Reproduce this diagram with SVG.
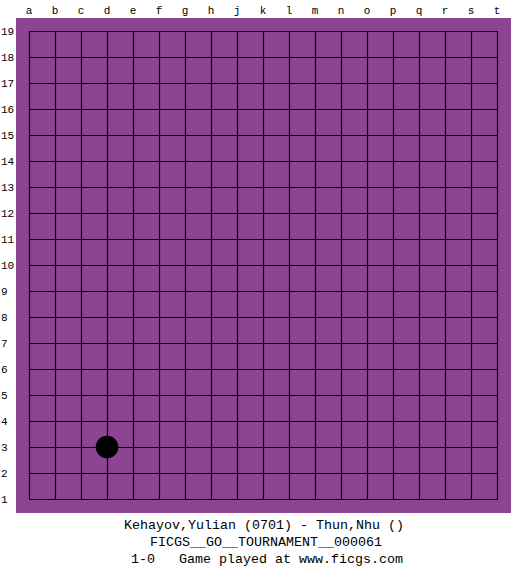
<svg xmlns="http://www.w3.org/2000/svg" width="525" height="575" viewBox="0 0 525 575">
<style>
.lbl{font-family:"Liberation Mono","DejaVu Sans Mono",monospace;font-size:11px;fill:#000}
.cap{font-family:"Liberation Mono","DejaVu Sans Mono",monospace;font-size:13px;fill:#000}
.g{stroke:#000;stroke-width:1.2;fill:none}
</style>
<rect width="525" height="575" fill="#fff"/>
<g id="board">
<rect x="16" y="18" width="495" height="495" fill="#8B4592"/>
</g>
<g id="grid" class="g">
<path d="M29.5 31.5V499.5M55.5 31.5V499.5M81.5 31.5V499.5M107.5 31.5V499.5M133.5 31.5V499.5M159.5 31.5V499.5M185.5 31.5V499.5M211.5 31.5V499.5M237.5 31.5V499.5M263.5 31.5V499.5M289.5 31.5V499.5M315.5 31.5V499.5M341.5 31.5V499.5M367.5 31.5V499.5M393.5 31.5V499.5M419.5 31.5V499.5M445.5 31.5V499.5M471.5 31.5V499.5M497.5 31.5V499.5"/>
<path d="M29.5 31.5H497.5M29.5 57.5H497.5M29.5 83.5H497.5M29.5 109.5H497.5M29.5 135.5H497.5M29.5 161.5H497.5M29.5 187.5H497.5M29.5 213.5H497.5M29.5 239.5H497.5M29.5 265.5H497.5M29.5 291.5H497.5M29.5 317.5H497.5M29.5 343.5H497.5M29.5 369.5H497.5M29.5 395.5H497.5M29.5 421.5H497.5M29.5 447.5H497.5M29.5 473.5H497.5M29.5 499.5H497.5"/>
</g>
<g id="stone-d3">
<circle cx="107" cy="447" r="11.3" fill="#000"/>
</g>
<g id="col-labels" class="lbl" text-anchor="middle">
<text x="29" y="14">a</text><text x="55" y="14">b</text><text x="81" y="14">c</text><text x="107" y="14">d</text><text x="133" y="14">e</text><text x="159" y="14">f</text><text x="185" y="14">g</text><text x="211" y="14">h</text><text x="237" y="14">j</text><text x="263" y="14">k</text><text x="289" y="14">l</text><text x="315" y="14">m</text><text x="341" y="14">n</text><text x="367" y="14">o</text><text x="393" y="14">p</text><text x="419" y="14">q</text><text x="445" y="14">r</text><text x="471" y="14">s</text><text x="497" y="14">t</text>
</g>
<g id="row-labels" class="lbl">
<text x="1" y="35">19</text><text x="1" y="61">18</text><text x="1" y="87">17</text><text x="1" y="113">16</text><text x="1" y="139">15</text><text x="1" y="165">14</text><text x="1" y="191">13</text><text x="1" y="217">12</text><text x="1" y="243">11</text><text x="1" y="269">10</text><text x="1" y="295">9</text><text x="1" y="321">8</text><text x="1" y="347">7</text><text x="1" y="373">6</text><text x="1" y="399">5</text><text x="1" y="425">4</text><text x="1" y="451">3</text><text x="1" y="477">2</text><text x="1" y="503">1</text>
</g>
<g id="caption" class="cap">
<text x="124" y="529" textLength="280" lengthAdjust="spacingAndGlyphs">Kehayov,Yulian (0701) - Thun,Nhu ()</text>
<text x="150" y="546" textLength="232" lengthAdjust="spacingAndGlyphs">FICGS__GO__TOURNAMENT__000061</text>
<text x="131" y="563" textLength="272" lengthAdjust="spacingAndGlyphs" xml:space="preserve">1-0   Game played at www.ficgs.com</text>
</g>
</svg>
